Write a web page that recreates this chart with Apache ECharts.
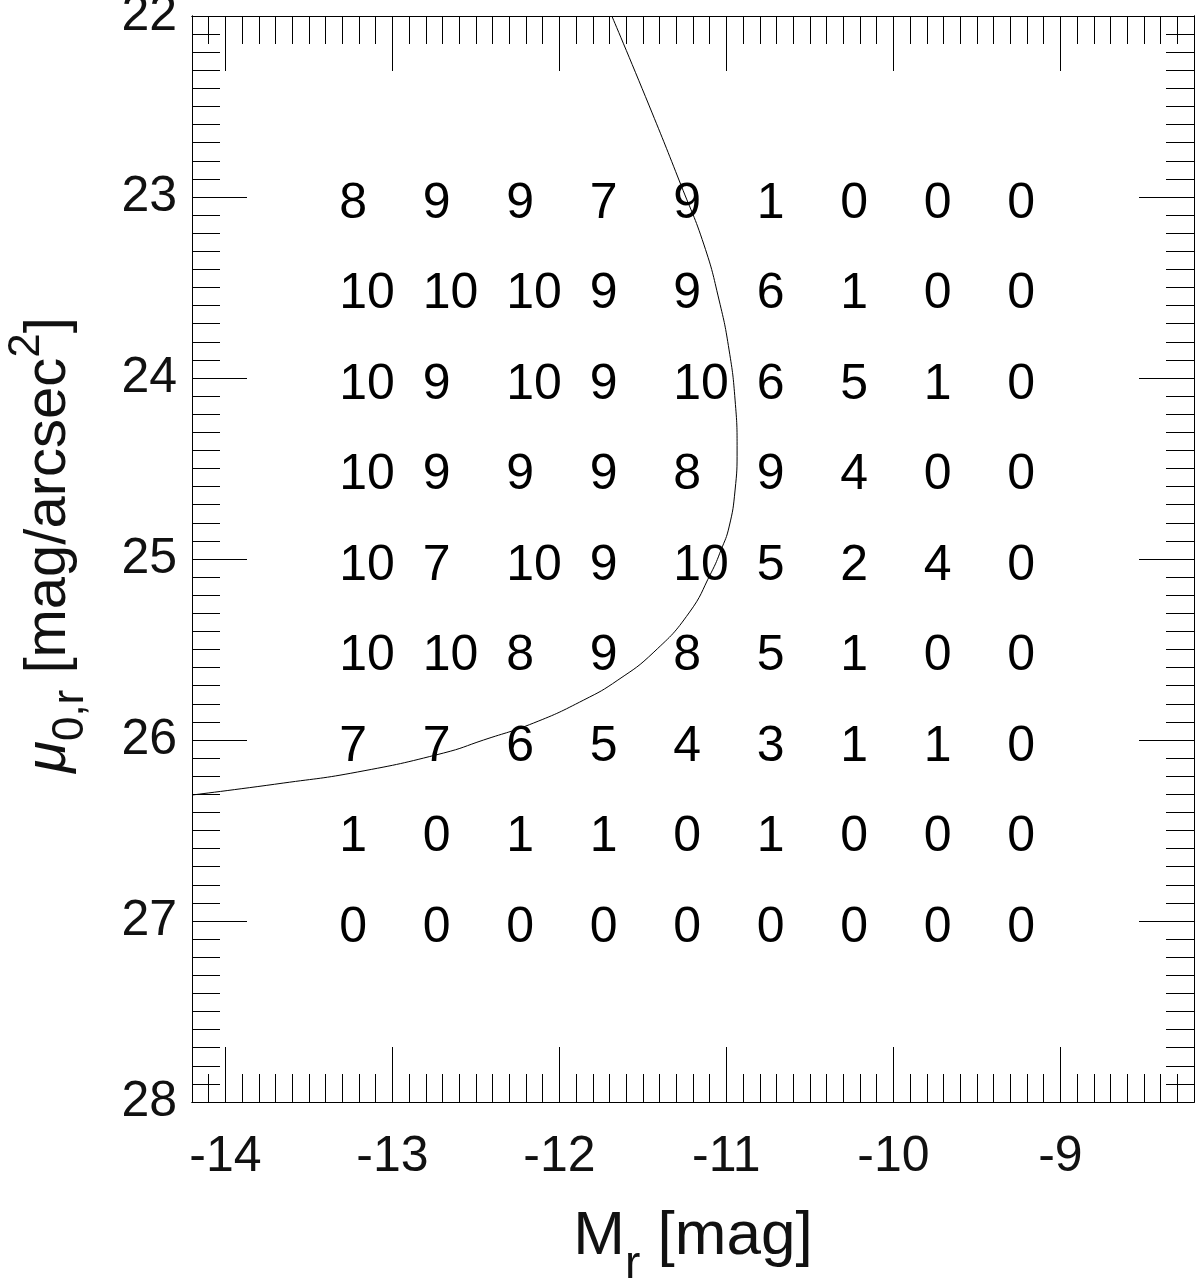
<!DOCTYPE html>
<html><head><meta charset="utf-8">
<script src="https://cdn.jsdelivr.net/npm/echarts@6/dist/echarts.min.js"></script>
<style>html,body{margin:0;padding:0;background:#fff}#c{width:1200px;height:1280px}</style>
</head><body><div id="c"></div>
<script>
// Bin centres
const magBins = [-13.25, -12.75, -12.25, -11.75, -11.25, -10.75, -10.25, -9.75, -9.25];
const sbBins = [23.0, 23.5, 24.0, 24.5, 25.0, 25.5, 26.0, 26.5, 27.0];
// Counts, one row per surface-brightness bin
const row230 = [8, 9, 9, 7, 9, 1, 0, 0, 0];
const row235 = [10, 10, 10, 9, 9, 6, 1, 0, 0];
const row240 = [10, 9, 10, 9, 10, 6, 5, 1, 0];
const row245 = [10, 9, 9, 9, 8, 9, 4, 0, 0];
const row250 = [10, 7, 10, 9, 10, 5, 2, 4, 0];
const row255 = [10, 10, 8, 9, 8, 5, 1, 0, 0];
const row260 = [7, 7, 6, 5, 4, 3, 1, 1, 0];
const row265 = [1, 0, 1, 1, 0, 1, 0, 0, 0];
const row270 = [0, 0, 0, 0, 0, 0, 0, 0, 0];
const rows = [row230, row235, row240, row245, row250, row255, row260, row265, row270];
// Curve (Mr, mu0)
const curveMr = [-11.686, -11.464, -11.272, -11.134, -11.044, -10.984, -10.948, -10.936, -10.948, -10.984, -11.032, -11.092, -11.224, -11.434, -11.650, -11.854, -12.154, -12.454, -12.694, -13.210, -13.654, -14.200];
const curveMu = [22.000, 22.492, 22.934, 23.265, 23.569, 23.845, 24.122, 24.398, 24.619, 24.823, 24.950, 25.077, 25.298, 25.514, 25.669, 25.779, 25.906, 26.000, 26.072, 26.177, 26.238, 26.304];
// Axis ticks
const xMajor = [-14, -13, -12, -11, -10, -9];
const yMajor = [22, 23, 24, 25, 26, 27, 28];
const xRange = [-14.2, -8.2];
const yRange = [22, 28];

const xMinor = [];
for (let i = -142; i <= -82; i++) xMinor.push(+(i / 10).toFixed(1));
const yMinor = [];
for (let i = 220; i <= 280; i++) yMinor.push(+(i / 10).toFixed(1));

const cellData = [];
rows.forEach((r, j) => r.forEach((v, i) => cellData.push([magBins[i], sbBins[j], v])));

const FONT = '"Liberation Sans", Arial, Helvetica, sans-serif';
const lineC = '#000';
const labC = '#111';

function xAx(pos, ticks, len, labels, extra) {
  return Object.assign({
    type: 'value', position: pos, min: xRange[0], max: xRange[1],
    axisLine: { show: true, onZero: false, lineStyle: { color: lineC, width: 1 } },
    axisTick: { show: true, inside: true, length: len, customValues: ticks, lineStyle: { color: lineC, width: 1 } },
    axisLabel: labels ? { show: true, customValues: xMajor, margin: 30, fontSize: 50, color: labC, fontFamily: FONT } : { show: false },
    splitLine: { show: false }
  }, extra || {});
}
function yAx(pos, ticks, len, labels, extra) {
  return Object.assign({
    type: 'value', position: pos, min: yRange[0], max: yRange[1], inverse: true,
    axisLine: { show: true, onZero: false, lineStyle: { color: lineC, width: 1 } },
    axisTick: { show: true, inside: true, length: len, customValues: ticks, lineStyle: { color: lineC, width: 1 } },
    axisLabel: labels ? { show: true, customValues: yMajor, margin: 15, fontSize: 50, color: labC, fontFamily: FONT } : { show: false },
    splitLine: { show: false }
  }, extra || {});
}

const chart = echarts.init(document.getElementById('c'), null, { renderer: 'canvas' });
chart.setOption({
  animation: false,
  backgroundColor: '#fff',
  grid: { left: 192, right: 6, top: 16, bottom: 178, containLabel: false, outerBoundsMode: 'none' },
  xAxis: [
    xAx('bottom', xMajor, 55, true, {
      name: '{a|M}{s|r}{a| [mag]}', nameLocation: 'middle', nameGap: 84,
      nameTextStyle: { fontFamily: FONT, color: labC, rich: {
        a: { fontSize: 62, fontFamily: FONT, color: labC, lineHeight: 66, verticalAlign: 'middle' },
        s: { fontSize: 46, fontFamily: FONT, color: labC, padding: [56, 0, 0, 0], verticalAlign: 'middle' }
      } }
    }),
    xAx('bottom', xMinor, 28, false),
    xAx('top', xMajor, 55, false),
    xAx('top', xMinor, 28, false)
  ],
  yAxis: [
    yAx('left', yMajor, 55, true, {
      name: '{m|μ}{s|0,r}{a| [mag/arcsec}{p|2}{a|]}', nameLocation: 'middle', nameGap: 99, nameRotate: 90,
      nameTextStyle: { fontFamily: FONT, color: labC, padding: [0, 0, 0, 28], rich: {
        m: { fontSize: 58, fontFamily: FONT, fontStyle: 'italic', color: labC, lineHeight: 64, verticalAlign: 'middle' },
        a: { fontSize: 58, fontFamily: FONT, color: labC, lineHeight: 64, verticalAlign: 'middle' },
        s: { fontSize: 44, fontFamily: FONT, color: labC, padding: [44, 0, 0, 0], verticalAlign: 'middle' },
        p: { fontSize: 44, fontFamily: FONT, color: labC, padding: [0, 0, 44, 0], verticalAlign: 'middle' }
      } }
    }),
    yAx('left', yMinor, 28, false),
    yAx('right', yMajor, 55, false),
    yAx('right', yMinor, 28, false)
  ],
  series: [
    {
      type: 'scatter', xAxisIndex: 0, yAxisIndex: 0, data: cellData,
      symbolSize: 1, itemStyle: { color: 'rgba(0,0,0,0)', opacity: 1 },
      label: { show: true, position: 'right', distance: 0, offset: [-12, 7], opacity: 1,
        formatter: p => String(p.value[2]), fontSize: 50, color: '#000', fontFamily: FONT },
      silent: true, z: 3
    },
    {
      type: 'line', xAxisIndex: 0, yAxisIndex: 0,
      data: curveMr.map((x, i) => [x, curveMu[i]]),
      smooth: 0.5, showSymbol: false, symbol: 'none',
      lineStyle: { color: '#000', width: 1 }, silent: true, z: 4, clip: true
    }
  ]
});
</script></body></html>
